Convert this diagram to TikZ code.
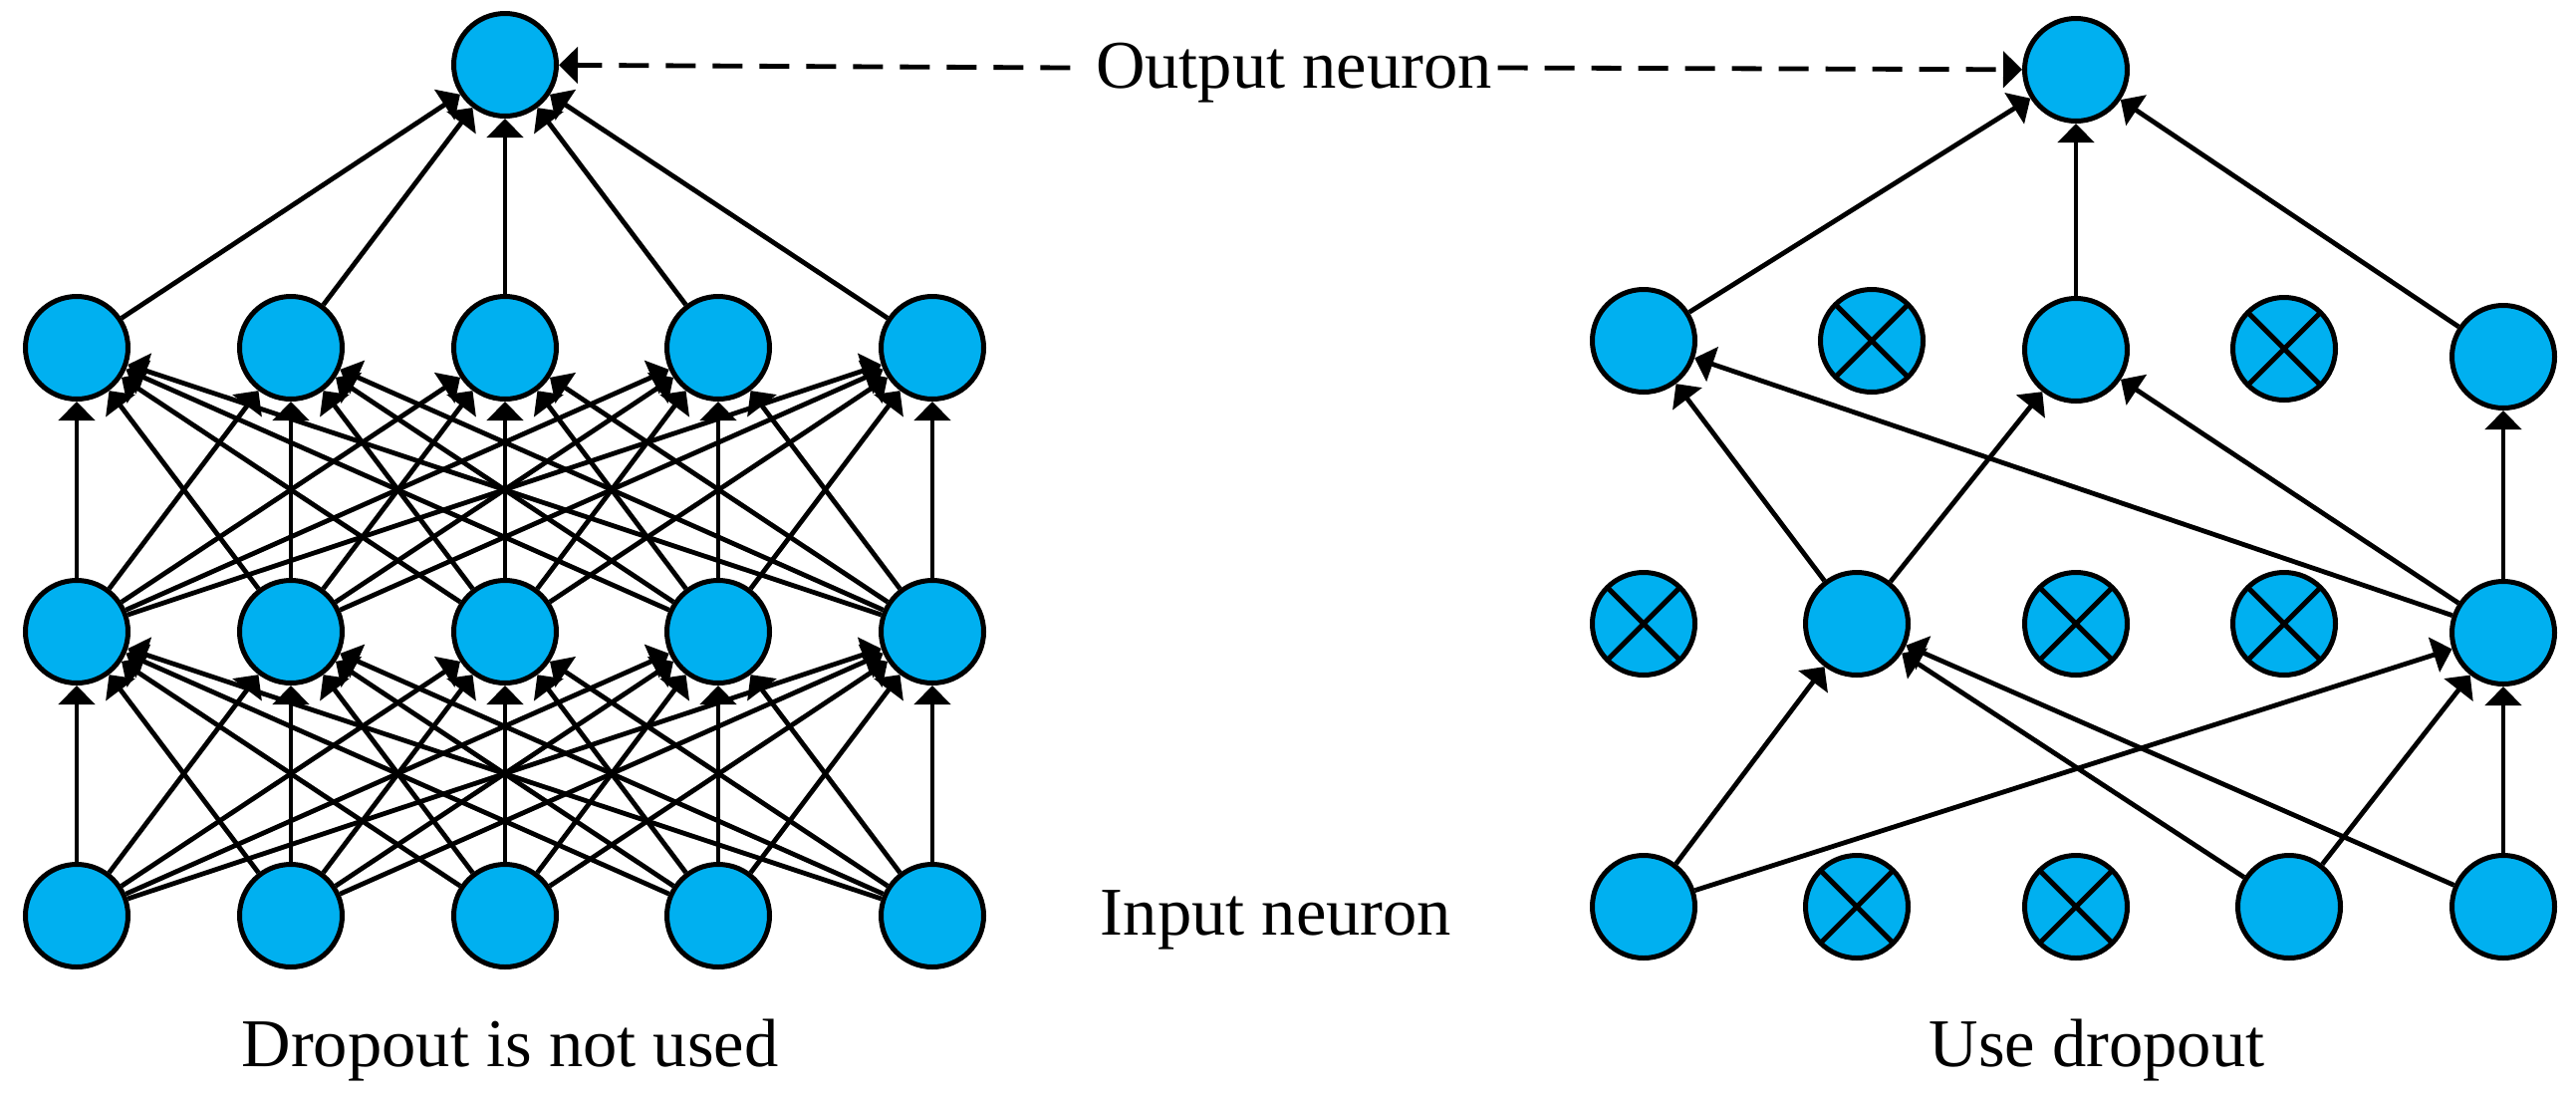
\documentclass[tikz,border=0pt]{standalone}
\usepackage{fontspec}
\setmainfont{Liberation Serif}
\usetikzlibrary{arrows.meta}
\definecolor{neuronblue}{RGB}{0,176,240}
\tikzset{
  neuron/.style={circle, draw=black, fill=neuronblue, line width=0.05cm, minimum size=1.03cm, inner sep=0pt},
  dropped/.style={neuron, path picture={
      \draw[line width=0.05cm] (path picture bounding box.north west) -- (path picture bounding box.south east);
      \draw[line width=0.05cm] (path picture bounding box.north east) -- (path picture bounding box.south west);}},
  conn/.style={line width=0.048cm, -{Triangle[length=0.19cm,width=0.36cm]}},
  dashconn/.style={conn, dash pattern=on 0.3cm off 0.17cm},
  lbl/.style={font=\fontsize{19.5}{23}\selectfont, inner sep=0pt, anchor=base}
}
\begin{document}
\begin{tikzpicture}
\useasboundingbox (0,0) rectangle (25.86,-11.02);
% ---------- left network ----------
\node[neuron] (lout) at (5.07,-0.65) {};
\foreach \c/\x in {1/0.77,2/2.92,3/5.07,4/7.21,5/9.36}{
  \node[neuron] (L1\c) at (\x,-3.49) {};
  \node[neuron] (L2\c) at (\x,-6.34) {};
  \node[neuron] (L3\c) at (\x,-9.19) {};
}
\foreach \a in {1,...,5}{
  \foreach \b in {1,...,5}{
    \draw[conn] (L3\a) -- (L2\b);
    \draw[conn] (L2\a) -- (L1\b);
  }
  \draw[conn] (L1\a) -- (lout);
}
% ---------- right network ----------
\node[neuron] (rout) at (20.84,-0.70) {};
\node[neuron]  (T1) at (16.50,-3.42) {};
\node[dropped] (T2) at (18.79,-3.42) {};
\node[neuron]  (T3) at (20.84,-3.51) {};
\node[dropped] (T4) at (22.93,-3.50) {};
\node[neuron]  (T5) at (25.13,-3.58) {};
\node[dropped] (M1) at (16.50,-6.26) {};
\node[neuron]  (M2) at (18.64,-6.26) {};
\node[dropped] (M3) at (20.84,-6.26) {};
\node[dropped] (M4) at (22.93,-6.26) {};
\node[neuron]  (M5) at (25.13,-6.35) {};
\node[neuron]  (B1) at (16.50,-9.10) {};
\node[dropped] (B2) at (18.64,-9.10) {};
\node[dropped] (B3) at (20.84,-9.10) {};
\node[neuron]  (B4) at (22.98,-9.10) {};
\node[neuron]  (B5) at (25.13,-9.10) {};
\draw[conn] (B1) -- (M2);
\draw[conn] (B1) -- (M5);
\draw[conn] (B4) -- (M2);
\draw[conn] (B5) -- (M2);
\draw[conn] (B4) -- (M5);
\draw[conn] (B5) -- (M5);
\draw[conn] (M2) -- (T1);
\draw[conn] (M2) -- (T3);
\draw[conn] (M5) -- (T1);
\draw[conn] (M5) -- (T3);
\draw[conn] (M5) -- (T5);
\draw[conn] (T1) -- (rout);
\draw[conn] (T3) -- (rout);
\draw[conn] (T5) -- (rout);
% ---------- labels ----------
\node[lbl] (outtxt) at (12.99,-0.88) {Output neuron};
\node[lbl] (intxt) at (12.81,-9.38) {Input neuron};
\node[lbl] (cap1) at (5.12,-10.70) {Dropout is not used};
\node[lbl] (cap2) at (21.05,-10.70) {Use dropout};
\coordinate (dl) at ([xshift=-0.25cm,yshift=0.2cm]outtxt.base west);
\coordinate (dr) at ([xshift=0.05cm,yshift=0.2cm]outtxt.base east);
\draw[dashconn] (dl) -- (lout);
\draw[dashconn] (dr) -- (rout);
\end{tikzpicture}
\end{document}
